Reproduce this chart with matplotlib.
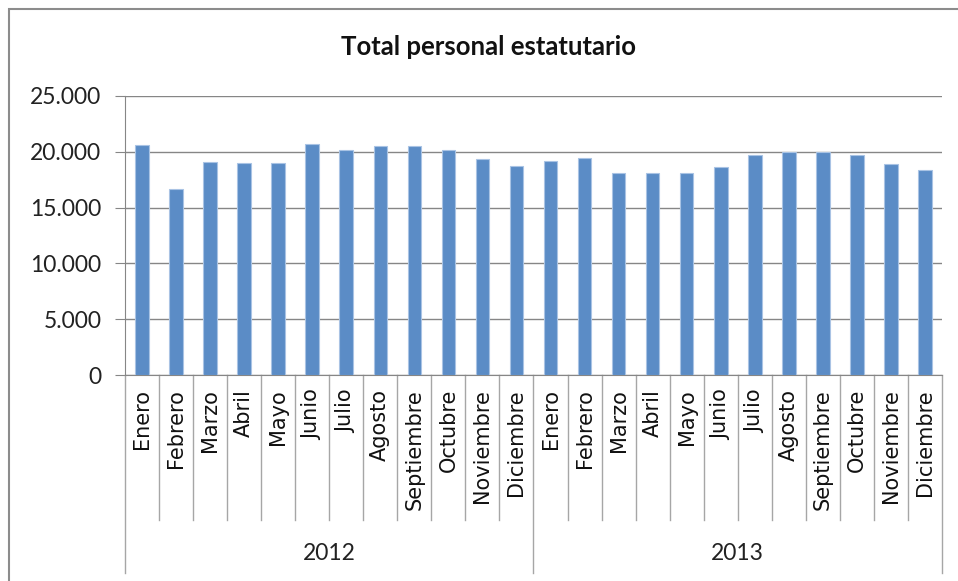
import numpy as np
import matplotlib
matplotlib.use('Agg')
import matplotlib.pyplot as plt
from matplotlib.patches import Rectangle

plt.rcParams['font.family'] = ['Lato', 'DejaVu Sans']

# datos
meses = ['Enero', 'Febrero', 'Marzo', 'Abril', 'Mayo', 'Junio', 'Julio',
         'Agosto', 'Septiembre', 'Octubre', 'Noviembre', 'Diciembre']
anios = ['2012', '2013']
valores_2012 = [20600, 16670, 19100, 19010, 19010, 20720, 20150,
                20480, 20480, 20150, 19330, 18740]
valores_2013 = [19220, 19460, 18070, 18070, 18070, 18650, 19700,
                20000, 20000, 19700, 18880, 18400]
yticks = [0, 5000, 10000, 15000, 20000, 25000]
ytick_labels = ['0', '5.000', '10.000', '15.000', '20.000', '25.000']

valores = valores_2012 + valores_2013
etiquetas = meses + meses
n = len(valores)
x = np.arange(n)

W, H = 958, 581
fig = plt.figure(figsize=(W / 100, H / 100), dpi=100)
ax = fig.add_axes([125 / W, 1 - 375 / H, 817 / W, 279 / H])

grid_col = '#868686'
ax.bar(x, valores, width=0.4, color='#5B8CC6', edgecolor='#A9C3E4',
       linewidth=0.8, zorder=3)

ax.set_xlim(-0.5, n - 0.5)
ax.set_ylim(0, 25000)
ax.set_yticks(yticks)
ax.set_yticklabels(ytick_labels, fontsize=16.5, color='#222222')
ax.yaxis.grid(True, color=grid_col, linewidth=1.0, zorder=0)
ax.tick_params(axis='y', length=7, color=grid_col, pad=10)
ax.set_xticks([])
for s in ['top', 'right']:
    ax.spines[s].set_visible(False)
ax.spines['left'].set_color(grid_col)
ax.spines['bottom'].set_color(grid_col)

# eje de categorias en dos niveles
trans = ax.get_xaxis_transform()
px = 1.0 / 279  # un pixel en coordenadas del eje
y_mes = -(520 - 375) * px
y_anio = -(573 - 375) * px
for i in range(n + 1):
    xb = i - 0.5
    bottom = y_anio if i % 12 == 0 else y_mes
    ax.plot([xb, xb], [0, bottom], transform=trans, color='#A6A6A6',
            linewidth=1.0, clip_on=False)
for i in range(n):
    ax.text(x[i], -(389 - 375) * px, etiquetas[i], transform=trans,
            rotation=90, ha='center', va='top', fontsize=15,
            family=['DejaVu Sans'], color='#111111')
for j, a in enumerate(anios):
    ax.text(j * 12 + 5.5, -(553 - 375) * px, a, transform=trans,
            ha='center', va='center', fontsize=16.5, color='#222222')

fig.text(488 / W, 1 - 47 / H, 'Total personal estatutario', ha='center',
         va='center', fontsize=18.5, fontweight='bold', color='#111111')

# borde del area del grafico
fig.patches.append(Rectangle((9 / W, -0.05), 1.2, 1 - 9 / H + 0.05,
                             transform=fig.transFigure, fill=False,
                             edgecolor='#8C8C8C', linewidth=1.5))

fig.savefig('out.png', dpi=100)
